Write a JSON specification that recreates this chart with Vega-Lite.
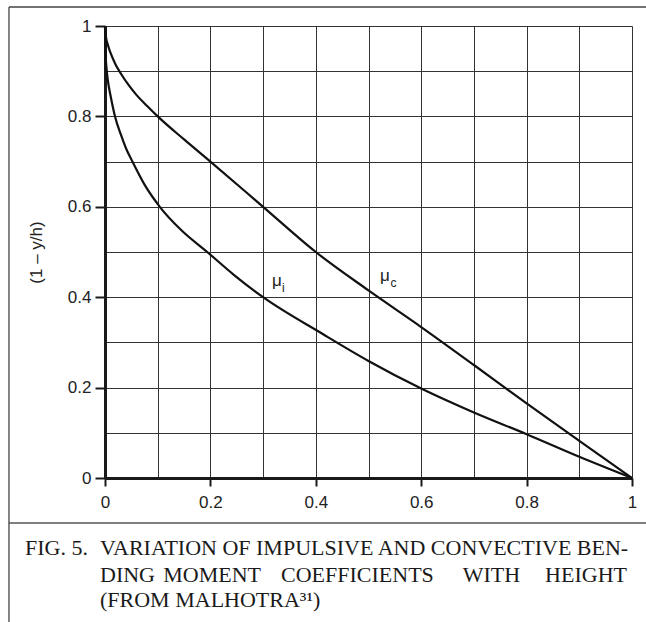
{
  "$schema": "https://vega.github.io/schema/vega-lite/v6.json",
  "width": 527,
  "height": 452,
  "autosize": "none",
  "padding": {"left": 105, "top": 26, "right": 14, "bottom": 144},
  "background": "white",
  "config": {"view": {"stroke": null}, "font": "Liberation Sans"},
  "datasets": {
    "curves": [
      {"series": "c", "x": 0, "y": 1},
      {"series": "c", "x": 0.002, "y": 0.975},
      {"series": "c", "x": 0.005, "y": 0.96},
      {"series": "c", "x": 0.01, "y": 0.942},
      {"series": "c", "x": 0.02, "y": 0.915},
      {"series": "c", "x": 0.03, "y": 0.895},
      {"series": "c", "x": 0.045, "y": 0.869},
      {"series": "c", "x": 0.06, "y": 0.847},
      {"series": "c", "x": 0.08, "y": 0.823},
      {"series": "c", "x": 0.1, "y": 0.8},
      {"series": "c", "x": 0.15, "y": 0.749},
      {"series": "c", "x": 0.2, "y": 0.7},
      {"series": "c", "x": 0.3, "y": 0.6},
      {"series": "c", "x": 0.4, "y": 0.5},
      {"series": "c", "x": 0.5, "y": 0.415},
      {"series": "c", "x": 0.6, "y": 0.334},
      {"series": "c", "x": 0.7, "y": 0.25},
      {"series": "c", "x": 0.8, "y": 0.165},
      {"series": "c", "x": 0.9, "y": 0.082},
      {"series": "c", "x": 1, "y": 0},
      {"series": "i", "x": 0, "y": 1},
      {"series": "i", "x": 0.001, "y": 0.94},
      {"series": "i", "x": 0.003, "y": 0.905},
      {"series": "i", "x": 0.006, "y": 0.875},
      {"series": "i", "x": 0.011, "y": 0.843},
      {"series": "i", "x": 0.019, "y": 0.8},
      {"series": "i", "x": 0.03, "y": 0.76},
      {"series": "i", "x": 0.04, "y": 0.729},
      {"series": "i", "x": 0.052, "y": 0.7},
      {"series": "i", "x": 0.075, "y": 0.649},
      {"series": "i", "x": 0.104, "y": 0.6},
      {"series": "i", "x": 0.145, "y": 0.548},
      {"series": "i", "x": 0.194, "y": 0.5},
      {"series": "i", "x": 0.245, "y": 0.449},
      {"series": "i", "x": 0.3, "y": 0.4},
      {"series": "i", "x": 0.414, "y": 0.318},
      {"series": "i", "x": 0.5, "y": 0.259},
      {"series": "i", "x": 0.6, "y": 0.198},
      {"series": "i", "x": 0.7, "y": 0.145},
      {"series": "i", "x": 0.8, "y": 0.097},
      {"series": "i", "x": 0.9, "y": 0.047},
      {"series": "i", "x": 1, "y": 0}
    ],
    "mu": [
      {"t": "μ", "x": 0.317, "y": 0.424},
      {"t": "μ", "x": 0.522, "y": 0.436}
    ],
    "sub": [
      {"t": "i", "x": 0.336, "y": 0.4115},
      {"t": "c", "x": 0.5417, "y": 0.4226}
    ]
  },
  "layer": [
    {
      "data": {"name": "curves"},
      "mark": {"type": "line", "interpolate": "monotone", "strokeWidth": 2.2},
      "encoding": {
        "x": {
          "field": "x", "type": "quantitative",
          "scale": {"domain": [0, 1], "nice": false, "zero": false},
          "axis": {
            "values": [0, 0.1, 0.2, 0.3, 0.4, 0.5, 0.6, 0.7, 0.8, 0.9, 1],
            "labelExpr": "round(datum.value*10)%2==0 ? format(datum.value,'~g') : ''",
            "title": null,
            "grid": true, "gridColor": "#333333", "gridWidth": 1, "gridOpacity": 1,
            "domain": true, "domainColor": "#1a1a1a", "domainWidth": 3,
            "ticks": true, "tickSize": 8, "tickWidth": 2, "tickColor": "#1a1a1a",
            "tickOpacity": {"condition": {"test": "round(datum.value*10)%2==0", "value": 1}, "value": 0},
            "labelFontSize": 17, "labelColor": "#222", "labelPadding": 8,
            "labelFlush": false, "labelOverlap": false
          }
        },
        "y": {
          "field": "y", "type": "quantitative",
          "scale": {"domain": [0, 1], "nice": false, "zero": false},
          "axis": {
            "values": [0, 0.1, 0.2, 0.3, 0.4, 0.5, 0.6, 0.7, 0.8, 0.9, 1],
            "labelExpr": "round(datum.value*10)%2==0 ? format(datum.value,'~g') : ''",
            "title": "(1 – y/h)", "titleFontSize": 17, "titleFontWeight": "normal", "titleColor": "#222", "titlePadding": 22,
            "grid": true, "gridColor": "#333333", "gridWidth": 1, "gridOpacity": 1,
            "domain": true, "domainColor": "#1a1a1a", "domainWidth": 3,
            "ticks": true, "tickSize": 10, "tickWidth": 2, "tickColor": "#1a1a1a",
            "tickOpacity": {"condition": {"test": "round(datum.value*10)%2==0", "value": 1}, "value": 0},
            "labelFontSize": 17, "labelColor": "#222", "labelPadding": 4,
            "labelFlush": false, "labelOverlap": false
          }
        },
        "color": {"field": "series", "type": "nominal", "scale": {"range": ["#111111", "#111111"]}, "legend": null}
      }
    },
    {
      "data": {"name": "mu"},
      "mark": {"type": "text", "align": "left", "baseline": "alphabetic", "fontSize": 17, "color": "#222"},
      "encoding": {
        "x": {"field": "x", "type": "quantitative"},
        "y": {"field": "y", "type": "quantitative"},
        "text": {"field": "t"}
      }
    },
    {
      "data": {"name": "sub"},
      "mark": {"type": "text", "align": "left", "baseline": "alphabetic", "fontSize": 12, "color": "#222"},
      "encoding": {
        "x": {"field": "x", "type": "quantitative"},
        "y": {"field": "y", "type": "quantitative"},
        "text": {"field": "t"}
      }
    },
    {
      "data": {"values": [{}]},
      "mark": {"type": "rule", "color": "#444", "strokeWidth": 1.3, "clip": false},
      "encoding": {
        "x": {"datum": -0.1822, "type": "quantitative"},
        "x2": {"datum": 1.03},
        "y": {"datum": 1.042, "type": "quantitative"}
      }
    },
    {
      "data": {"values": [{}]},
      "mark": {"type": "rule", "color": "#444", "strokeWidth": 1.3, "clip": false},
      "encoding": {
        "x": {"datum": -0.1822, "type": "quantitative"},
        "y": {"datum": 1.042, "type": "quantitative"},
        "y2": {"datum": -0.33}
      }
    },
    {
      "data": {"values": [{}]},
      "mark": {"type": "rule", "color": "#555", "strokeWidth": 1.3, "clip": false},
      "encoding": {
        "x": {"datum": -0.1822, "type": "quantitative"},
        "x2": {"datum": 1.03},
        "y": {"datum": -0.0996, "type": "quantitative"}
      }
    },
    {
      "data": {"values": [{}]},
      "mark": {"type": "text", "font": "Liberation Serif", "fontSize": 22, "align": "left", "baseline": "alphabetic", "color": "#1a1a1a"},
      "encoding": {"x": {"datum": -0.1518, "type": "quantitative"}, "y": {"datum": -0.1704, "type": "quantitative"}, "text": {"value": "FIG. 5."}}
    },
    {
      "data": {"values": [{}]},
      "mark": {"type": "text", "font": "Liberation Serif", "fontSize": 22, "align": "left", "baseline": "alphabetic", "color": "#1a1a1a"},
      "encoding": {"x": {"datum": -0.0095, "type": "quantitative"}, "y": {"datum": -0.1704, "type": "quantitative"}, "text": {"value": "VARIATION OF IMPULSIVE AND CONVECTIVE BEN-"}}
    },
    {
      "data": {"values": [{}]},
      "mark": {"type": "text", "font": "Liberation Serif", "fontSize": 22, "align": "left", "baseline": "alphabetic", "color": "#1a1a1a"},
      "encoding": {"x": {"datum": -0.0095, "type": "quantitative"}, "y": {"datum": -0.2294, "type": "quantitative"}, "text": {"value": "DING"}}
    },
    {
      "data": {"values": [{}]},
      "mark": {"type": "text", "font": "Liberation Serif", "fontSize": 22, "align": "left", "baseline": "alphabetic", "color": "#1a1a1a"},
      "encoding": {"x": {"datum": 0.1106, "type": "quantitative"}, "y": {"datum": -0.2294, "type": "quantitative"}, "text": {"value": "MOMENT"}}
    },
    {
      "data": {"values": [{}]},
      "mark": {"type": "text", "font": "Liberation Serif", "fontSize": 22, "align": "left", "baseline": "alphabetic", "color": "#1a1a1a"},
      "encoding": {"x": {"datum": 0.334, "type": "quantitative"}, "y": {"datum": -0.2294, "type": "quantitative"}, "text": {"value": "COEFFICIENTS"}}
    },
    {
      "data": {"values": [{}]},
      "mark": {"type": "text", "font": "Liberation Serif", "fontSize": 22, "align": "left", "baseline": "alphabetic", "color": "#1a1a1a"},
      "encoding": {"x": {"datum": 0.6788, "type": "quantitative"}, "y": {"datum": -0.2294, "type": "quantitative"}, "text": {"value": "WITH"}}
    },
    {
      "data": {"values": [{}]},
      "mark": {"type": "text", "font": "Liberation Serif", "fontSize": 22, "align": "right", "baseline": "alphabetic", "color": "#1a1a1a"},
      "encoding": {"x": {"datum": 0.9905, "type": "quantitative"}, "y": {"datum": -0.2294, "type": "quantitative"}, "text": {"value": "HEIGHT"}}
    },
    {
      "data": {"values": [{}]},
      "mark": {"type": "text", "font": "Liberation Serif", "fontSize": 22, "align": "left", "baseline": "alphabetic", "color": "#1a1a1a"},
      "encoding": {"x": {"datum": -0.0095, "type": "quantitative"}, "y": {"datum": -0.2861, "type": "quantitative"}, "text": {"value": "(FROM MALHOTRA³¹)"}}
    }
  ]
}
